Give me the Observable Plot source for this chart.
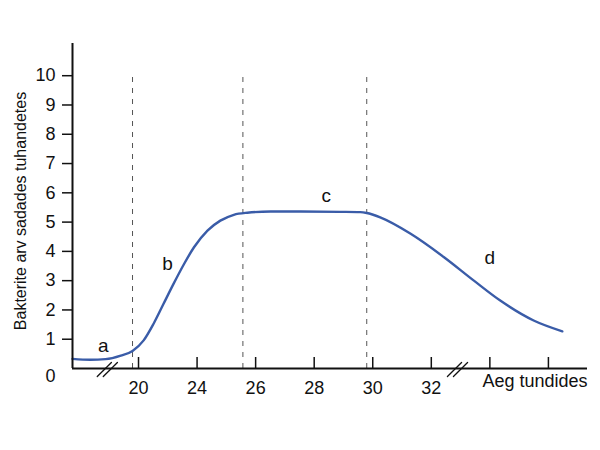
<!DOCTYPE html>
<html>
<head>
<meta charset="utf-8">
<script src="https://cdn.jsdelivr.net/npm/d3@7"></script>
<script src="https://cdn.jsdelivr.net/npm/@observablehq/plot@0.6"></script>
<style>
  body { margin: 0; background: #fff; }
  #chart { position: relative; width: 600px; height: 450px; }
</style>
</head>
<body>
<div id="chart"></div>
<script>
// x positions are tick slots (the axis is broken, not linear in hours)
const tickSlots = [0, 1, 2, 3, 4, 5, 6, 7];
const tickLabels = ["20", "24", "26", "28", "30", "32", "", ""];
const yTicks = [1, 2, 3, 4, 5, 6, 7, 8, 9, 10];

// growth curve (slot position, thousands of bacteria)
const curveSlot = [-1.025, -0.72, -0.46, -0.2, 0, 0.19, 0.36, 0.53, 0.7, 0.88, 1.05, 1.28, 1.5, 1.73, 1.96, 2.36, 2.87, 3.55, 3.89, 4.0, 4.23, 4.75, 5.32, 5.83, 6.28, 6.85, 7.34];
const curveValue = [0.33, 0.3, 0.32, 0.44, 0.6, 0.96, 1.53, 2.21, 2.89, 3.57, 4.14, 4.71, 5.05, 5.25, 5.32, 5.36, 5.36, 5.35, 5.34, 5.31, 5.16, 4.6, 3.8, 3.0, 2.32, 1.64, 1.27];

// phase boundaries (dashed lines)
const phaseBounds = [0, 1.885, 4.0];
const phaseTop = 10.1;

// phase labels
const phaseNames = ["a", "b", "c", "d"];
const phaseX = [-0.5, 0.6, 3.31, 6.1];
const phaseY = [0.78, 3.58, 5.9, 3.79];

// axis break marks
const breakSlots = [-0.43, 5.55];

const xDomain = [-1.025, 7.77];
const yDomain = [0, 11.1];

const curve = curveSlot.map((x, i) => ({x, y: curveValue[i]}));
const phases = phaseNames.map((t, i) => ({t, x: phaseX[i], y: phaseY[i]}));
const bounds = phaseBounds.map(x => ({x}));

// a straight stroke drawn from the anchor to -l (vector convention)
const slash = {draw(ctx, l) { ctx.moveTo(0, 0); ctx.lineTo(0, -l); }};

const plot = Plot.plot({
  width: 600,
  height: 450,
  marginLeft: 72,
  marginRight: 13,
  marginTop: 43,
  marginBottom: 82,
  style: {fontSize: "18px", fontFamily: "'Liberation Sans', Arial, sans-serif", color: "#111"},
  x: {domain: xDomain},
  y: {domain: yDomain},
  marks: [
    Plot.ruleX(bounds, {x: "x", y1: 0, y2: phaseTop, stroke: "#555", strokeDasharray: "5,6", strokeWidth: 1}),
    Plot.line(curve, {x: "x", y: "y", curve: "monotone-x", stroke: "#3a5ca8", strokeWidth: 2.4}),
    Plot.text(phases, {x: "x", y: "y", text: "t", fontSize: 19}),
    Plot.axisY({ticks: yTicks, tickSize: 10, tickPadding: 7, label: null, fontSize: 18, strokeWidth: 1.5}),
    Plot.axisY({ticks: [0], tickSize: 0, tickPadding: 17, label: null, dy: 8, fontSize: 18}),
    Plot.axisX({ticks: tickSlots, tickFormat: i => tickLabels[i], tickSize: -11, tickPadding: 24, label: null, dx: 6, fontSize: 18, strokeWidth: 1.5}),
    Plot.ruleX([xDomain[0]], {stroke: "#111", strokeWidth: 2}),
    Plot.ruleY([0], {stroke: "#111", strokeWidth: 2}),
    Plot.vector(breakSlots, {x: d => d, y: 0, length: 20, rotate: 45, anchor: "middle", shape: slash, stroke: "#111", strokeWidth: 1.3, dx: -3, dy: 1}),
    Plot.vector(breakSlots, {x: d => d, y: 0, length: 20, rotate: 45, anchor: "middle", shape: slash, stroke: "#111", strokeWidth: 1.3, dx: 3, dy: 1}),
    Plot.text(["Aeg tundides"], {frameAnchor: "bottom-right", text: d => d, textAnchor: "end", dy: 18, fontSize: 18}),
    Plot.text(["Bakterite arv sadades tuhandetes"], {frameAnchor: "left", text: d => d, textAnchor: "middle", rotate: -90, dx: -52, dy: 5, fontSize: 16})
  ]
});
document.getElementById("chart").appendChild(plot);
</script>
</body>
</html>
